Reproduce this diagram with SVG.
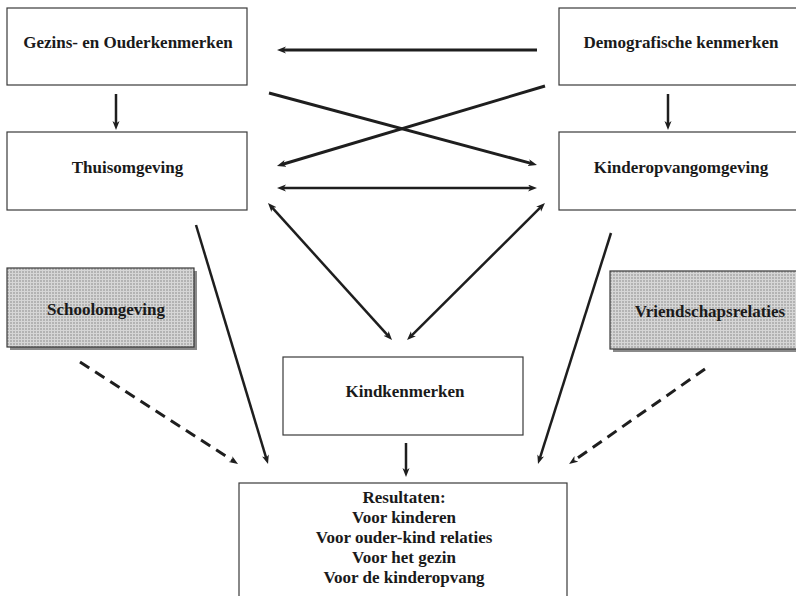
<svg xmlns="http://www.w3.org/2000/svg" width="796" height="596" viewBox="0 0 796 596">
<style>
.box{fill:#fff;stroke:#3a3a3a;stroke-width:1.2}
.shade{fill:url(#grid);stroke:#3a3a3a;stroke-width:1.2}
.shadow{fill:#8a8a8a}
.t{font-family:'Liberation Serif','Times New Roman','DejaVu Serif',serif;font-weight:700;font-size:17px;fill:#1a1a1a;text-anchor:middle}
.c{fill:none;stroke:#1e1e1e}
.thick{stroke-width:3}
.mid{stroke-width:2.5}
.dash{stroke-width:3;stroke-dasharray:11 7}
</style>
<defs>
<pattern id="grid" width="3" height="3" patternUnits="userSpaceOnUse">
<rect width="3" height="3" fill="#b3b3b3"/>
<path d="M0,0.5H3M0.5,0V3" stroke="#d6d6d6" stroke-width="1"/>
</pattern>
<marker id="ah" markerUnits="userSpaceOnUse" markerWidth="10" markerHeight="8" refX="3" refY="3.5" orient="auto-start-reverse">
<path d="M0,0 L9,3.5 L0,7 L2.5,3.5 z" fill="#1e1e1e"/>
</marker>
</defs>

<g id="connectors">
<line class="c thick" x1="537" y1="50" x2="283" y2="50" marker-end="url(#ah)"/>
<line class="c thick" x1="269" y1="93" x2="531.2" y2="163.4" marker-end="url(#ah)"/>
<line class="c thick" x1="545" y1="86" x2="282.7" y2="164.3" marker-end="url(#ah)"/>
<line class="c mid" x1="283" y1="188" x2="531" y2="188" marker-start="url(#ah)" marker-end="url(#ah)"/>
<line class="c mid" x1="272" y1="207.4" x2="388" y2="335.6" marker-start="url(#ah)" marker-end="url(#ah)"/>
<line class="c mid" x1="540.7" y1="207.2" x2="411.3" y2="335.8" marker-start="url(#ah)" marker-end="url(#ah)"/>
<line class="c mid" x1="116" y1="94" x2="116" y2="124" marker-end="url(#ah)"/>
<line class="c mid" x1="668" y1="94" x2="668" y2="124" marker-end="url(#ah)"/>
<line class="c mid" x1="196" y1="225" x2="266.3" y2="458.3" marker-end="url(#ah)"/>
<line class="c mid" x1="611" y1="233" x2="539.8" y2="458.3" marker-end="url(#ah)"/>
<line class="c mid" x1="406" y1="443" x2="406" y2="471" marker-end="url(#ah)"/>
<line class="c dash" x1="80" y1="362" x2="233" y2="460.7" marker-end="url(#ah)"/>
<line class="c dash" x1="705" y1="369" x2="574" y2="460.6" marker-end="url(#ah)"/>
</g>

<g id="gezins">
<rect class="box" x="7" y="8" width="240" height="77"/>
<text class="t" x="128" y="48">Gezins- en Ouderkenmerken</text>
</g>
<g id="demografisch">
<rect class="box" x="559" y="8" width="240" height="77"/>
<text class="t" x="681" y="48">Demografische kenmerken</text>
</g>
<g id="thuis">
<rect class="box" x="7" y="132" width="240" height="78"/>
<text class="t" x="127.5" y="173">Thuisomgeving</text>
</g>
<g id="kinderopvang">
<rect class="box" x="559" y="132" width="240" height="78"/>
<text class="t" x="681" y="173">Kinderopvangomgeving</text>
</g>
<g id="school">
<rect class="shadow" x="10" y="271" width="187" height="79"/>
<rect class="shade" x="7" y="268" width="187" height="79"/>
<text class="t" x="106" y="315">Schoolomgeving</text>
</g>
<g id="vriend">
<rect class="shadow" x="613" y="274" width="190" height="78"/>
<rect class="shade" x="610" y="271" width="190" height="78"/>
<text class="t" x="710" y="317">Vriendschapsrelaties</text>
</g>
<g id="kind">
<rect class="box" x="283" y="357" width="240" height="78"/>
<text class="t" x="405" y="397">Kindkenmerken</text>
</g>
<g id="resultaten">
<rect class="box" x="239" y="483" width="328" height="120"/>
<text class="t" x="404" y="503">Resultaten:</text>
<text class="t" x="404" y="523">Voor kinderen</text>
<text class="t" x="404" y="543">Voor ouder-kind relaties</text>
<text class="t" x="404" y="563">Voor het gezin</text>
<text class="t" x="404" y="583">Voor de kinderopvang</text>
</g>
</svg>
